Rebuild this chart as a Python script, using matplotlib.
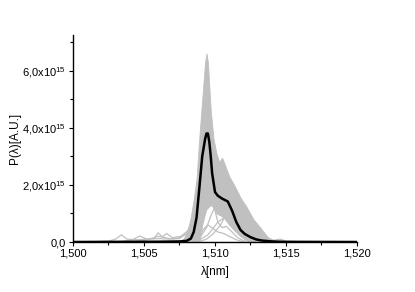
import matplotlib
matplotlib.use("Agg")
import matplotlib.pyplot as plt
from matplotlib.ticker import MultipleLocator

plt.rcParams['font.family'] = ['Liberation Sans', 'DejaVu Sans']
plt.rcParams['mathtext.fontset'] = 'custom'
plt.rcParams['mathtext.rm'] = 'Liberation Sans'
plt.rcParams['mathtext.it'] = 'Liberation Sans:italic'

SCALE = 1e15

# Mean spectrum (black), values in units of 1e15
mean_x = [1.500, 1.503, 1.506, 1.5075, 1.5080, 1.5083, 1.5085, 1.5087, 1.5089, 1.5091,
          1.5093, 1.5094, 1.5095, 1.5096, 1.5097, 1.5098, 1.5100, 1.5102, 1.5105, 1.5109,
          1.5112, 1.5115, 1.5118, 1.5121, 1.5125, 1.5129, 1.5133, 1.514, 1.515, 1.520]
mean_y = [0, 0.005, 0.01, 0.02, 0.04, 0.12, 0.35, 0.85, 1.9, 3.0,
          3.6, 3.8, 3.8, 3.5, 3.0, 2.4, 1.75, 1.62, 1.52, 1.42,
          1.1, 0.7, 0.42, 0.28, 0.17, 0.09, 0.05, 0.02, 0.005, 0]

# Dense band of individual spectra (gray)
band_x = [1.5075, 1.5078, 1.5081, 1.5083, 1.5085, 1.5087, 1.5089, 1.5091, 1.5093, 1.5094,
          1.5095, 1.5097, 1.5099, 1.5101, 1.5103, 1.5105, 1.5107, 1.5110, 1.5114, 1.5118,
          1.5122, 1.5127, 1.5132, 1.5137, 1.5142]
band_hi = [0.02, 0.13, 0.42, 0.9, 1.5, 2.2, 3.7, 5.0, 6.3, 6.6,
           6.3, 4.6, 3.6, 3.1, 2.8, 2.95, 2.7, 2.3, 1.95, 1.55,
           1.25, 0.8, 0.5, 0.18, 0.03]
band_lo = [0, 0, 0, 0, 0, 0, 0, 0.6, 1.0, 1.15,
           1.2, 1.3, 1.2, 1.0, 0.95, 0.9, 0.8, 0.6, 0.4, 0.2,
           0.05, 0.01, 0, 0, 0]

# Individual outlying spectra (gray lines)
low1_x = [1.5082, 1.5086, 1.5090, 1.5094, 1.5097, 1.5100, 1.5103, 1.5106, 1.5109, 1.5113, 1.5118, 1.5124, 1.5130]
low1_y = [0, 0.05, 0.2, 0.5, 0.9, 1.25, 1.0, 0.9, 0.7, 0.45, 0.2, 0.05, 0]
low2_x = [1.5085, 1.5090, 1.5095, 1.5099, 1.5102, 1.5105, 1.5107, 1.5110, 1.5113, 1.5117, 1.5122, 1.5128]
low2_y = [0, 0.1, 0.25, 0.5, 0.7, 0.8, 0.9, 0.75, 0.5, 0.3, 0.1, 0]
low3_x = [1.5084, 1.5088, 1.5092, 1.5095, 1.5098, 1.5102, 1.5106, 1.5110, 1.5115, 1.5120]
low3_y = [0, 0.15, 0.45, 0.6, 0.5, 0.35, 0.3, 0.2, 0.08, 0]
low4_x = [1.5088, 1.5094, 1.5099, 1.5104, 1.5108, 1.5111, 1.5114, 1.5118, 1.5123]
low4_y = [0, 0.1, 0.3, 0.6, 1.0, 1.1, 0.7, 0.3, 0.05]
low5_x = [1.5086, 1.5090, 1.5093, 1.5096, 1.5099, 1.5102, 1.5105, 1.5108, 1.5112, 1.5116, 1.5121]
low5_y = [0, 0.4, 1.1, 1.6, 1.3, 0.7, 0.5, 0.55, 0.35, 0.15, 0.02]
left1_x = [1.5010, 1.5025, 1.5030, 1.5034, 1.5038, 1.5045, 1.5052, 1.5060, 1.5068, 1.5075, 1.5080, 1.5084]
left1_y = [0, 0.03, 0.1, 0.25, 0.1, 0.08, 0.1, 0.12, 0.1, 0.15, 0.3, 0.8]
left2_x = [1.5035, 1.5042, 1.5047, 1.5052, 1.5057, 1.5060, 1.5063, 1.5066, 1.5070, 1.5076, 1.5081]
left2_y = [0.02, 0.08, 0.21, 0.1, 0.12, 0.32, 0.18, 0.3, 0.15, 0.2, 0.4]
left3_x = [1.5000, 1.5040, 1.5050, 1.5055, 1.5060, 1.5065, 1.5070, 1.5075, 1.5080]
left3_y = [0, 0.02, 0.05, 0.12, 0.2, 0.15, 0.1, 0.12, 0.3]
right1_x = [1.5130, 1.5136, 1.5141, 1.5146, 1.5150, 1.5160, 1.5180, 1.5200]
right1_y = [0.4, 0.15, 0.06, 0.1, 0.03, 0.01, 0, 0]

gray_lines = [(low1_x, low1_y), (low2_x, low2_y), (low3_x, low3_y), (low4_x, low4_y),
              (low5_x, low5_y), (left1_x, left1_y), (left2_x, left2_y), (left3_x, left3_y),
              (right1_x, right1_y)]

x_ticks = [1.500, 1.505, 1.510, 1.515, 1.520]
x_labels = ['1,500', '1,505', '1,510', '1,515', '1,520']
y_ticks = [0, 2, 4, 6]
y_labels = ['0,0', r'2,0x10$^{15}$', r'4,0x10$^{15}$', r'6,0x10$^{15}$']

GRAY = '#c0c0c0'

fig = plt.figure(figsize=(4.15, 2.92), dpi=100)
ax = fig.add_axes([73/415, 50/292, 284/415, 207/292])

ax.fill_between(band_x, [v*SCALE for v in band_lo], [v*SCALE for v in band_hi],
                color=GRAY, lw=0.6, edgecolor=GRAY)
for gx, gy in gray_lines:
    ax.plot(gx, [v*SCALE for v in gy], color=GRAY, lw=0.9)
ax.plot([1.500, 1.520], [0, 0], color=GRAY, lw=0.9)
ax.plot(mean_x, [v*SCALE for v in mean_y], color='black', lw=1.8)

ax.set_xlim(1.500, 1.520)
ax.set_ylim(0, 7.25*SCALE)
ax.set_xticks(x_ticks)
ax.set_xticklabels(x_labels)
ax.set_yticks([v*SCALE for v in y_ticks])
ax.set_yticklabels(y_labels)
ax.xaxis.set_minor_locator(MultipleLocator(0.0025))
ax.yaxis.set_minor_locator(MultipleLocator(1*SCALE))

for s in ['top', 'right']:
    ax.spines[s].set_visible(False)
for s in ['left', 'bottom']:
    ax.spines[s].set_linewidth(1.0)
ax.tick_params(which='major', direction='out', length=3, width=0.8, labelsize=8, pad=2)
ax.tick_params(which='minor', direction='out', length=2, width=0.8)

ax.set_xlabel('λ[nm]', fontsize=8.5, labelpad=5)
ax.set_ylabel('P(λ)[A.U.]', fontsize=8.5, labelpad=1)

fig.savefig('out.png', dpi=100)
